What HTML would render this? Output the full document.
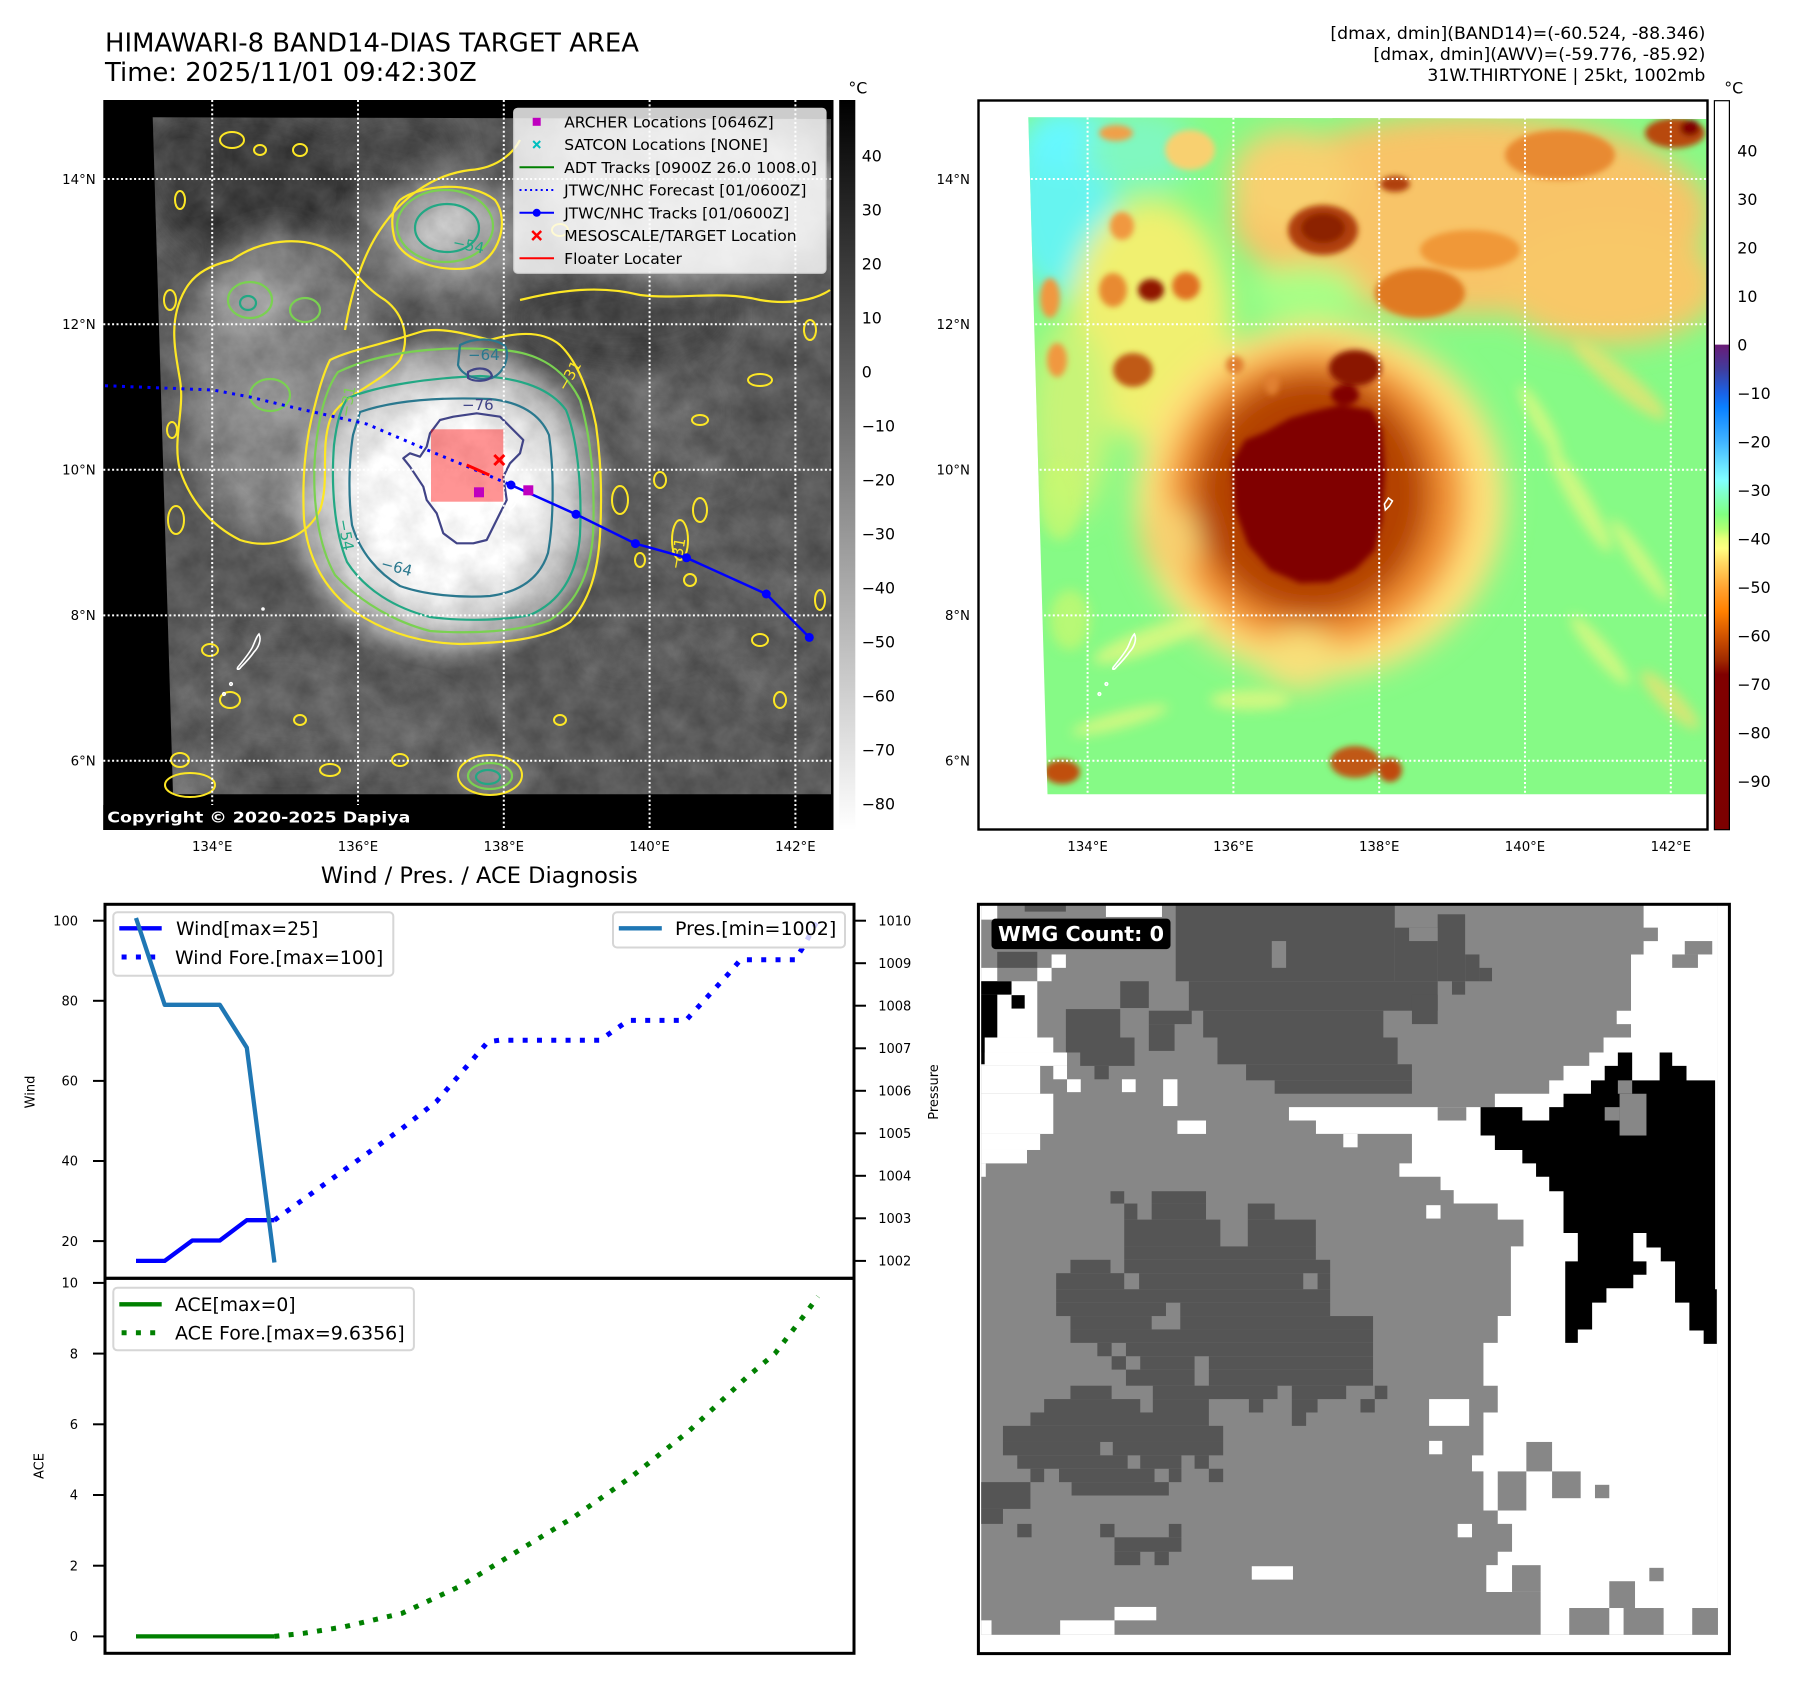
<!DOCTYPE html>
<html><head><meta charset="utf-8"><style>
html,body{margin:0;padding:0;background:#fff}
svg{display:block}
text{font-family:"DejaVu Sans","Liberation Sans",sans-serif;fill:#000}
</style></head><body>
<svg width="1797" height="1690" viewBox="0 0 1797 1690" xmlns="http://www.w3.org/2000/svg">
<defs>
<clipPath id="clipL"><polygon points="152.7,117.3 831,119 831,794.2 173,794.2"/></clipPath>
<clipPath id="clipR"><polygon points="1028.3,117.3 1706.3,119 1706.3,794.3 1047.5,794.3"/></clipPath>
<filter id="bl14" x="-50%" y="-50%" width="200%" height="200%"><feGaussianBlur stdDeviation="14"/></filter>
<filter id="bl6" x="-50%" y="-50%" width="200%" height="200%"><feGaussianBlur stdDeviation="6"/></filter>
<filter id="bl3" x="-50%" y="-50%" width="200%" height="200%"><feGaussianBlur stdDeviation="3"/></filter>
<filter id="texL" x="0" y="0" width="100%" height="100%" color-interpolation-filters="sRGB">
<feTurbulence type="fractalNoise" baseFrequency="0.035" numOctaves="4" seed="7" result="n"/>
<feColorMatrix in="n" type="matrix" values="1 0 0 0 0  1 0 0 0 0  1 0 0 0 0  0 0 0 0 1" result="g"/>
<feComposite in="SourceGraphic" in2="g" operator="arithmetic" k1="0" k2="1" k3="0.18" k4="-0.09"/>
</filter>
<linearGradient id="cb1" x1="0" y1="0" x2="0" y2="1"><stop offset="0" stop-color="#000"/><stop offset="1" stop-color="#fff"/></linearGradient>
<linearGradient id="cb2" x1="0" y1="0" x2="0" y2="1">
<stop offset="0" stop-color="#fff"/><stop offset="0.3347" stop-color="#fff"/>
<stop offset="0.3348" stop-color="#6a1b76"/><stop offset="0.368" stop-color="#403c9c"/>
<stop offset="0.4012" stop-color="#1a62e6"/><stop offset="0.421" stop-color="#0a80ff"/>
<stop offset="0.4677" stop-color="#40b4ff"/><stop offset="0.501" stop-color="#6ae4ff"/>
<stop offset="0.521" stop-color="#80ffff"/><stop offset="0.5409" stop-color="#80ffc4"/>
<stop offset="0.5675" stop-color="#80ff80"/><stop offset="0.5875" stop-color="#b0ff72"/>
<stop offset="0.6008" stop-color="#e8ff78"/><stop offset="0.6141" stop-color="#ffff80"/>
<stop offset="0.6341" stop-color="#ffd862"/><stop offset="0.6673" stop-color="#ffa432"/>
<stop offset="0.7006" stop-color="#ff8000"/><stop offset="0.7339" stop-color="#d25400"/>
<stop offset="0.7672" stop-color="#a02a00"/><stop offset="0.7871" stop-color="#800000"/>
<stop offset="1" stop-color="#7c0000"/>
</linearGradient>
<radialGradient id="storm" cx="0.5" cy="0.5" r="0.5">
<stop offset="0" stop-color="#ffffff"/><stop offset="0.45" stop-color="#f6f6f6"/>
<stop offset="0.6" stop-color="#e2e2e2"/><stop offset="0.72" stop-color="#c8c8c8"/>
<stop offset="0.87" stop-color="#a0a0a0" stop-opacity="0.9"/><stop offset="1" stop-color="#808080" stop-opacity="0"/>
</radialGradient>
</defs>

<!-- ============ TITLES ============ -->
<text x="105" y="51.7" font-size="25.7" textLength="534" lengthAdjust="spacingAndGlyphs">HIMAWARI-8 BAND14-DIAS TARGET AREA</text>
<text x="105" y="81" font-size="25.7" textLength="371.7" lengthAdjust="spacingAndGlyphs">Time: 2025/11/01 09:42:30Z</text>
<text x="1705.4" y="39.1" font-size="17" text-anchor="end" textLength="375" lengthAdjust="spacingAndGlyphs">[dmax, dmin](BAND14)=(-60.524, -88.346)</text>
<text x="1705.4" y="60" font-size="17" text-anchor="end" textLength="332" lengthAdjust="spacingAndGlyphs">[dmax, dmin](AWV)=(-59.776, -85.92)</text>
<text x="1705.4" y="80.8" font-size="17" text-anchor="end" textLength="278" lengthAdjust="spacingAndGlyphs">31W.THIRTYONE | 25kt, 1002mb</text>

<!-- ============ LEFT MAP ============ -->
<rect x="103.3" y="100" width="730.2" height="730" fill="#000"/>
<g clip-path="url(#clipL)">
<g filter="url(#texL)">
<rect x="140" y="110" width="700" height="700" fill="#5a5a5a"/>
<g filter="url(#bl14)">
<ellipse cx="255" cy="190" rx="105" ry="80" fill="#3d3d3d"/>
<ellipse cx="180" cy="160" rx="40" ry="50" fill="#444"/>
<ellipse cx="400" cy="145" rx="60" ry="35" fill="#4a4a4a"/>
<ellipse cx="450" cy="235" rx="80" ry="60" fill="#8e8e8e"/>
<ellipse cx="448" cy="228" rx="38" ry="27" fill="#c8c8c8"/>
<ellipse cx="690" cy="195" rx="150" ry="85" fill="#a4a4a4"/>
<ellipse cx="590" cy="150" rx="60" ry="35" fill="#9a9a9a"/>
<ellipse cx="620" cy="318" rx="110" ry="45" fill="#474747"/>
<ellipse cx="280" cy="385" rx="100" ry="150" fill="#858585"/>
<ellipse cx="250" cy="300" rx="32" ry="26" fill="#a8a8a8"/>
<ellipse cx="270" cy="400" rx="28" ry="22" fill="#a0a0a0"/>
<ellipse cx="340" cy="300" rx="40" ry="50" fill="#787878"/>
<ellipse cx="680" cy="450" rx="60" ry="15" fill="#707070" transform="rotate(30 680 450)"/>
<ellipse cx="720" cy="560" rx="70" ry="14" fill="#6c6c6c" transform="rotate(35 720 560)"/>
<ellipse cx="760" cy="680" rx="60" ry="12" fill="#686868" transform="rotate(40 760 680)"/>
<ellipse cx="640" cy="650" rx="50" ry="12" fill="#666"/>
<ellipse cx="660" cy="410" rx="45" ry="30" fill="#6a6a6a"/>
<ellipse cx="280" cy="700" rx="100" ry="60" fill="#606060"/>
<ellipse cx="380" cy="730" rx="80" ry="40" fill="#656565"/>
<ellipse cx="490" cy="775" rx="32" ry="20" fill="#9a9a9a"/>
<ellipse cx="190" cy="785" rx="28" ry="14" fill="#8a8a8a"/>
</g>
<ellipse cx="447" cy="500" rx="172" ry="170" fill="url(#storm)"/>
</g>
</g>

<!-- contours -->
<g fill="none" stroke-width="2.2" stroke-linejoin="round">
<path stroke="#fde725" d="M330,360 C350,350 380,345 420,332 C440,326 470,335 490,340 C510,334 540,328 560,345 C578,362 590,395 596,425 C601,460 602,500 600,535 C598,570 590,600 570,622 C545,640 500,643 460,644 C420,643 385,632 355,612 C325,590 308,560 304,520 C302,480 305,440 315,405 C320,385 325,370 330,360 Z"/>
<path stroke="#fde725" d="M232,260 C260,240 300,235 330,250 C350,262 360,285 385,300 C405,315 410,340 400,360 C380,385 340,395 330,420 C320,450 330,480 320,510 C305,540 270,550 240,540 C210,525 190,500 180,470 C172,440 185,410 180,380 C175,350 168,320 185,290 C195,272 212,265 232,260 Z"/>
<path stroke="#fde725" d="M345,330 C350,300 360,260 380,230 C400,200 430,175 470,170 C500,168 515,150 520,140"/>
<path stroke="#fde725" d="M520,300 C560,290 600,285 640,295 C680,300 720,290 760,300 C790,305 815,300 830,290"/>
<path stroke="#fde725" d="M400,200 C420,185 470,180 495,200 C510,220 500,260 470,268 C440,272 405,262 395,240 C390,222 392,208 400,200 Z"/>
<path stroke="#7ad151" d="M338,372 C380,352 440,345 500,350 C540,352 565,370 580,400 C592,440 595,490 593,535 C590,575 575,605 550,620 C520,632 470,634 430,631 C395,622 360,602 335,575 C318,545 312,500 315,455 C318,420 325,390 338,372 Z"/>
<ellipse stroke="#7ad151" cx="445" cy="226" rx="48" ry="36"/>
<ellipse stroke="#7ad151" cx="250" cy="300" rx="22" ry="18"/>
<ellipse stroke="#7ad151" cx="270" cy="395" rx="20" ry="16"/>
<ellipse stroke="#7ad151" cx="305" cy="310" rx="15" ry="12"/>
<path stroke="#22a884" d="M348,398 C380,385 430,378 480,376 C520,378 550,388 566,410 C578,440 582,490 580,535 C577,575 560,602 530,615 C500,621 460,621 430,617 C395,608 365,590 347,562 C334,530 331,485 334,445 C337,420 342,405 348,398 Z"/>
<ellipse stroke="#22a884" cx="447" cy="228" rx="32" ry="24"/>
<ellipse stroke="#22a884" cx="248" cy="303" rx="8" ry="7"/>
<path stroke="#2a788e" d="M360,412 C395,400 440,397 490,399 C520,402 540,414 549,435 C554,470 554,520 548,553 C540,578 520,592 490,596 C460,598 425,595 400,586 C378,573 360,552 352,525 C348,495 349,460 353,435 Z"/>
<path stroke="#2a788e" d="M460,345 C475,337 495,338 505,346 C510,356 505,372 492,378 C478,381 462,376 458,365 Z"/>
<path stroke="#414487" d="M453.3,416.7 L476.7,413.3 L500,416.7 L513.3,430 L523.3,440 L520,453.3 L510,463.3 L503.3,476.7 L506.7,500 L500,513.3 L493.3,526.7 L486.7,540 L473.3,543.3 L456.7,543.3 L443.3,533.3 L436.7,513.3 L426.7,500 L423.3,486.7 L410,466.7 L403.3,458.3 L410,453.3 L420,456.7 L426.7,446.7 L430,433.3 L440,420 Z"/>
<path stroke="#414487" d="M468,372 C478,366 490,368 492,376 C488,382 474,382 468,378 Z"/>
<g stroke="#fde725" stroke-width="2">
<ellipse cx="232" cy="140" rx="12" ry="8"/><ellipse cx="260" cy="150" rx="6" ry="5"/><ellipse cx="170" cy="300" rx="6" ry="10"/>
<ellipse cx="172" cy="430" rx="5" ry="8"/><ellipse cx="176" cy="520" rx="8" ry="14"/><ellipse cx="210" cy="650" rx="8" ry="6"/>
<ellipse cx="230" cy="700" rx="10" ry="8"/><ellipse cx="180" cy="760" rx="9" ry="7"/><ellipse cx="300" cy="720" rx="6" ry="5"/>
<ellipse cx="620" cy="500" rx="8" ry="14"/><ellipse cx="660" cy="480" rx="6" ry="8"/><ellipse cx="690" cy="580" rx="6" ry="6"/>
<ellipse cx="700" cy="510" rx="7" ry="12"/><ellipse cx="640" cy="560" rx="5" ry="7"/><ellipse cx="760" cy="640" rx="8" ry="6"/>
<ellipse cx="780" cy="700" rx="6" ry="8"/><ellipse cx="820" cy="600" rx="5" ry="10"/><ellipse cx="560" cy="720" rx="6" ry="5"/>
<ellipse cx="400" cy="760" rx="8" ry="6"/><ellipse cx="330" cy="770" rx="10" ry="6"/><ellipse cx="700" cy="420" rx="8" ry="5"/>
<ellipse cx="760" cy="380" rx="12" ry="6"/><ellipse cx="810" cy="330" rx="6" ry="10"/><ellipse cx="180" cy="200" rx="5" ry="9"/>
<ellipse cx="300" cy="150" rx="7" ry="6"/><ellipse cx="560" cy="230" rx="8" ry="6"/><ellipse cx="680" cy="540" rx="8" ry="20"/>
<ellipse cx="490" cy="775" rx="32" ry="20"/><ellipse cx="190" cy="785" rx="25" ry="12"/>
</g>
<ellipse stroke="#7ad151" cx="490" cy="776" rx="22" ry="13"/>
<ellipse stroke="#22a884" cx="488" cy="777" rx="12" ry="7"/>
</g>
<g font-size="15">
<text x="452" y="247" style="fill:#22a884" transform="rotate(12 452 247)">−54</text>
<text x="468" y="360" style="fill:#2a788e">−64</text>
<text x="462" y="410" style="fill:#414487">−76</text>
<text x="338" y="520" style="fill:#22a884" transform="rotate(80 338 520)">−54</text>
<text x="380" y="568" style="fill:#2a788e" transform="rotate(15 380 568)">−64</text>
<text x="566" y="392" style="fill:#fde725" transform="rotate(-60 566 392)">−31</text>
<text x="680" y="570" style="fill:#fde725" transform="rotate(-80 680 570)">−31</text>
<text x="350" y="418" style="fill:#7ad151" transform="rotate(-80 350 418)">−31</text>
</g>
<!-- islands -->
<g fill="none" stroke="#fff" stroke-width="1.6">
<path d="M259,634 C262,640 258,648 254,652 C250,658 246,662 241,667 C239,670 236,670 238,667 C243,661 248,655 252,648 C255,642 256,637 259,634 Z"/>
<circle cx="231" cy="684" r="1.3"/><circle cx="224" cy="694" r="1.3"/><circle cx="263" cy="609" r="1"/>
<path d="M510,510 L509,504 L513,498 L517,501 L514,506 Z"/>
</g>
<!-- gridlines left -->
<g stroke="#fff" stroke-width="2" stroke-dasharray="2 2.4">
<line x1="212.2" y1="100" x2="212.2" y2="830"/><line x1="358" y1="100" x2="358" y2="830"/>
<line x1="503.8" y1="100" x2="503.8" y2="830"/><line x1="649.6" y1="100" x2="649.6" y2="830"/>
<line x1="795.4" y1="100" x2="795.4" y2="830"/>
<line x1="103.3" y1="179" x2="833.5" y2="179"/><line x1="103.3" y1="324.2" x2="833.5" y2="324.2"/>
<line x1="103.3" y1="469.7" x2="833.5" y2="469.7"/><line x1="103.3" y1="615.4" x2="833.5" y2="615.4"/>
<line x1="103.3" y1="760.8" x2="833.5" y2="760.8"/>
</g>
<!-- floater rect -->
<rect x="431" y="429.3" width="72.3" height="72.4" fill="#ff0000" fill-opacity="0.42"/>
<!-- tracks -->
<path d="M105,385.7 L213,390 L250,397 L290,406.7 L366.7,424 L433.3,452.5 L466,466 L511,485" fill="none" stroke="#0000ff" stroke-width="3" stroke-dasharray="3 5.5"/>
<path d="M511,485 L576,514.3 L635.4,543.6 L686.5,557.8 L766.3,594 L809.3,637.4" fill="none" stroke="#0000ff" stroke-width="2.5"/>
<g fill="#0000ff"><circle cx="511" cy="485" r="4.5"/><circle cx="576" cy="514.3" r="4.5"/><circle cx="635.4" cy="543.6" r="4.5"/><circle cx="686.5" cy="557.8" r="4.5"/><circle cx="766.3" cy="594" r="4.5"/><circle cx="809.3" cy="637.4" r="4.5"/></g>
<rect x="474" y="487.3" width="10" height="10" fill="#bf00bf"/>
<rect x="523.3" y="485.3" width="10" height="10" fill="#bf00bf"/>
<line x1="466.7" y1="465" x2="489.3" y2="475" stroke="#ff0000" stroke-width="3"/>
<g stroke="#ff0000" stroke-width="3"><line x1="494.3" y1="455" x2="504.3" y2="465"/><line x1="494.3" y1="465" x2="504.3" y2="455"/></g>
<!-- legend left map -->
<rect x="513.7" y="108.3" width="312.3" height="165" rx="4" fill="#fff" fill-opacity="0.8" stroke="#cccccc" stroke-width="1.2"/>
<rect x="532.7" y="117.8" width="8" height="8" fill="#bf00bf"/>
<g stroke="#00bfbf" stroke-width="2"><line x1="533.2" y1="141" x2="540.2" y2="148"/><line x1="533.2" y1="148" x2="540.2" y2="141"/></g>
<line x1="519.5" y1="167.3" x2="554" y2="167.3" stroke="#008000" stroke-width="2"/>
<line x1="519.5" y1="190.05" x2="554" y2="190.05" stroke="#0000ff" stroke-width="2" stroke-dasharray="2 3.3"/>
<line x1="519.5" y1="212.8" x2="554" y2="212.8" stroke="#0000ff" stroke-width="2"/>
<circle cx="536.7" cy="212.8" r="4" fill="#0000ff"/>
<g stroke="#ff0000" stroke-width="2.5"><line x1="532.2" y1="231" x2="541.2" y2="240"/><line x1="532.2" y1="240" x2="541.2" y2="231"/></g>
<line x1="519.5" y1="258.3" x2="554" y2="258.3" stroke="#ff0000" stroke-width="2"/>
<g font-size="15.5">
<text x="564.2" y="127.4" textLength="209.5" lengthAdjust="spacingAndGlyphs">ARCHER Locations [0646Z]</text>
<text x="564.2" y="150.2" textLength="203.8" lengthAdjust="spacingAndGlyphs">SATCON Locations [NONE]</text>
<text x="564.2" y="172.9" textLength="252.6" lengthAdjust="spacingAndGlyphs">ADT Tracks [0900Z 26.0 1008.0]</text>
<text x="564.2" y="195.7" textLength="242.3" lengthAdjust="spacingAndGlyphs">JTWC/NHC Forecast [01/0600Z]</text>
<text x="564.2" y="218.4" textLength="225.1" lengthAdjust="spacingAndGlyphs">JTWC/NHC Tracks [01/0600Z]</text>
<text x="564.2" y="241.2" textLength="232.5" lengthAdjust="spacingAndGlyphs">MESOSCALE/TARGET Location</text>
<text x="564.2" y="263.9" textLength="117.8" lengthAdjust="spacingAndGlyphs">Floater Locater</text>
</g>
<rect x="103.3" y="805" width="310" height="25" fill="#000"/>
<text x="107.3" y="822.7" font-size="15.5" font-weight="bold" style="fill:#fff" textLength="303" lengthAdjust="spacingAndGlyphs">Copyright © 2020-2025 Dapiya</text>

<!-- ticks maps -->
<g font-size="13.3" text-anchor="end">
<text x="95.7" y="183.9">14°N</text><text x="95.7" y="329">12°N</text><text x="95.7" y="474.5">10°N</text><text x="95.7" y="620.2">8°N</text><text x="95.7" y="765.6">6°N</text>
<text x="970" y="183.9">14°N</text><text x="970" y="329">12°N</text><text x="970" y="474.5">10°N</text><text x="970" y="620.2">8°N</text><text x="970" y="765.6">6°N</text>
</g>
<g font-size="13.3" text-anchor="middle">
<text x="212.2" y="851.2">134°E</text><text x="358" y="851.2">136°E</text><text x="503.8" y="851.2">138°E</text><text x="649.6" y="851.2">140°E</text><text x="795.4" y="851.2">142°E</text>
<text x="1087.6" y="851.2">134°E</text><text x="1233.4" y="851.2">136°E</text><text x="1379.2" y="851.2">138°E</text><text x="1525" y="851.2">140°E</text><text x="1670.8" y="851.2">142°E</text>
</g>

<!-- colorbar 1 -->
<rect x="839.2" y="100" width="16.1" height="730" fill="url(#cb1)"/>
<text x="857.8" y="93.4" font-size="15.8" text-anchor="middle">°C</text>
<g font-size="15.8">
<text x="861.7" y="161.5">40</text><text x="861.7" y="215.5">30</text><text x="861.7" y="269.5">20</text><text x="861.7" y="323.5">10</text>
<text x="861.7" y="377.5">0</text><text x="861.7" y="431.5">−10</text><text x="861.7" y="485.5">−20</text><text x="861.7" y="539.5">−30</text>
<text x="861.7" y="593.5">−40</text><text x="861.7" y="647.5">−50</text><text x="861.7" y="701.5">−60</text><text x="861.7" y="755.5">−70</text>
<text x="861.7" y="809.5">−80</text>
</g>

<!-- ============ RIGHT MAP ============ -->
<rect x="978.5" y="100.5" width="729" height="729" fill="#fff"/>
<g clip-path="url(#clipR)">
<rect x="1020" y="110" width="700" height="700" fill="#86fa86"/>
<g filter="url(#bl14)">
<ellipse cx="1062" cy="200" rx="55" ry="95" fill="#66f4f0"/>
<ellipse cx="1075" cy="140" rx="55" ry="30" fill="#66f8ff"/>
<ellipse cx="1140" cy="150" rx="55" ry="40" fill="#80f8c0"/>
<ellipse cx="1150" cy="320" rx="80" ry="120" fill="#f0f070"/>
<ellipse cx="1070" cy="420" rx="40" ry="100" fill="#c8f478"/>
<ellipse cx="1470" cy="215" rx="240" ry="100" fill="#f8c468"/>
<ellipse cx="1610" cy="285" rx="110" ry="60" fill="#f8c868"/>
<ellipse cx="1290" cy="180" rx="60" ry="50" fill="#f8d070"/>
<ellipse cx="1305" cy="292" rx="55" ry="26" fill="#a8ff86"/>
<ellipse cx="1320" cy="500" rx="185" ry="178" fill="#ffe07a"/>
<ellipse cx="1315" cy="498" rx="150" ry="150" fill="#f29030"/>
<ellipse cx="1312" cy="495" rx="118" ry="122" fill="#b44200"/>
<ellipse cx="1170" cy="540" rx="30" ry="35" fill="#f8d070"/>
<ellipse cx="1300" cy="660" rx="40" ry="30" fill="#f8e07a"/>
</g>
<g filter="url(#bl6)" opacity="0.75">
<ellipse cx="1580" cy="500" rx="60" ry="10" fill="#e8f880" transform="rotate(60 1580 500)"/>
<ellipse cx="1640" cy="560" rx="50" ry="8" fill="#e8f880" transform="rotate(55 1640 560)"/>
<ellipse cx="1600" cy="650" rx="45" ry="9" fill="#e8f880" transform="rotate(50 1600 650)"/>
<ellipse cx="1670" cy="700" rx="40" ry="10" fill="#f0e070" transform="rotate(45 1670 700)"/>
<ellipse cx="1150" cy="640" rx="60" ry="12" fill="#e8f880" transform="rotate(-20 1150 640)"/>
<ellipse cx="1120" cy="720" rx="50" ry="8" fill="#e8f880" transform="rotate(-15 1120 720)"/>
<ellipse cx="1250" cy="700" rx="40" ry="10" fill="#e8f880"/>
<ellipse cx="1540" cy="420" rx="40" ry="8" fill="#e8f880" transform="rotate(60 1540 420)"/>
<ellipse cx="1060" cy="500" rx="20" ry="40" fill="#c8f870"/>
<ellipse cx="1070" cy="620" rx="20" ry="30" fill="#c8f870"/>
<ellipse cx="1620" cy="380" rx="60" ry="12" fill="#f0e070" transform="rotate(40 1620 380)"/>
</g>
<g filter="url(#bl3)">
<path d="M1232,462 L1245,440 L1265,432 L1290,418 L1310,412 L1340,405 L1372,410 L1382,430 L1385,470 L1382,520 L1375,550 L1355,570 L1330,582 L1300,583 L1270,570 L1248,545 L1235,510 Z" fill="#800000"/>
<ellipse cx="1323" cy="230" rx="35" ry="25" fill="#b04008"/>
<ellipse cx="1323" cy="228" rx="22" ry="15" fill="#8c2000"/>
<ellipse cx="1420" cy="293" rx="45" ry="25" fill="#e07a20"/>
<ellipse cx="1560" cy="155" rx="55" ry="25" fill="#e88a30"/>
<ellipse cx="1675" cy="133" rx="30" ry="15" fill="#b84a10"/>
<ellipse cx="1690" cy="128" rx="10" ry="8" fill="#800000"/>
<ellipse cx="1395" cy="184" rx="15" ry="8" fill="#b04010"/>
<ellipse cx="1470" cy="250" rx="50" ry="20" fill="#f09838"/>
<ellipse cx="1151" cy="290" rx="13" ry="11" fill="#901800"/>
<ellipse cx="1113" cy="290" rx="14" ry="17" fill="#e88a30"/>
<ellipse cx="1186" cy="286" rx="14" ry="14" fill="#e07020"/>
<ellipse cx="1133" cy="370" rx="20" ry="17" fill="#c05a18"/>
<ellipse cx="1122" cy="226" rx="12" ry="14" fill="#f09840"/>
<ellipse cx="1050" cy="298" rx="10" ry="20" fill="#f09840"/>
<ellipse cx="1057" cy="360" rx="10" ry="17" fill="#f09840"/>
<ellipse cx="1116" cy="133" rx="17" ry="8" fill="#f0a048"/>
<ellipse cx="1190" cy="150" rx="25" ry="20" fill="#f8d070"/>
<ellipse cx="1235" cy="365" rx="9" ry="9" fill="#e08030"/>
<ellipse cx="1272" cy="384" rx="7" ry="11" fill="#e08030"/>
<ellipse cx="1355" cy="368" rx="26" ry="18" fill="#8a1400"/>
<ellipse cx="1345" cy="395" rx="14" ry="10" fill="#800000"/>
<ellipse cx="1062" cy="772" rx="18" ry="12" fill="#c05010"/>
<ellipse cx="1355" cy="762" rx="25" ry="16" fill="#c05818"/>
<ellipse cx="1390" cy="770" rx="12" ry="12" fill="#c04810"/>
</g>
<g stroke="#fff" stroke-width="2" stroke-dasharray="2 2.4">
<line x1="1087.6" y1="100" x2="1087.6" y2="830"/><line x1="1233.4" y1="100" x2="1233.4" y2="830"/>
<line x1="1379.2" y1="100" x2="1379.2" y2="830"/><line x1="1525" y1="100" x2="1525" y2="830"/>
<line x1="1670.8" y1="100" x2="1670.8" y2="830"/>
<line x1="978" y1="179" x2="1708" y2="179"/><line x1="978" y1="324.2" x2="1708" y2="324.2"/>
<line x1="978" y1="469.7" x2="1708" y2="469.7"/><line x1="978" y1="615.4" x2="1708" y2="615.4"/>
<line x1="978" y1="760.8" x2="1708" y2="760.8"/>
</g>
</g>
<g fill="none" stroke="#fff" stroke-width="1.6" transform="translate(875.4,0)">
<path d="M259,634 C262,640 258,648 254,652 C250,658 246,662 241,667 C239,670 236,670 238,667 C243,661 248,655 252,648 C255,642 256,637 259,634 Z"/>
<circle cx="231" cy="684" r="1.3"/><circle cx="224" cy="694" r="1.3"/>
<path d="M510,510 L509,504 L513,498 L517,501 L514,506 Z"/>
</g>
<rect x="978.5" y="100.5" width="729" height="729" fill="none" stroke="#000" stroke-width="2.4"/>
<!-- colorbar 2 -->
<rect x="1714.4" y="100.7" width="15" height="729" fill="url(#cb2)" stroke="#000" stroke-width="1.2"/>
<text x="1733.7" y="93.4" font-size="15.8" text-anchor="middle">°C</text>
<g font-size="15.8">
<text x="1737.3" y="156.5">40</text><text x="1737.3" y="205">30</text><text x="1737.3" y="253.5">20</text><text x="1737.3" y="302">10</text>
<text x="1737.3" y="350.6">0</text><text x="1737.3" y="399.1">−10</text><text x="1737.3" y="447.6">−20</text><text x="1737.3" y="496.1">−30</text>
<text x="1737.3" y="544.6">−40</text><text x="1737.3" y="593.2">−50</text><text x="1737.3" y="641.7">−60</text><text x="1737.3" y="690.2">−70</text>
<text x="1737.3" y="738.7">−80</text><text x="1737.3" y="787.2">−90</text>
</g>

<!-- ============ BOTTOM LEFT ============ -->
<text x="479.3" y="883" font-size="22.3" text-anchor="middle" textLength="316.8" lengthAdjust="spacingAndGlyphs">Wind / Pres. / ACE Diagnosis</text>
<rect x="105" y="904.3" width="749" height="374" fill="#fff"/>
<g stroke="#000" stroke-width="2">
<line x1="93" y1="920.7" x2="105" y2="920.7"/><line x1="93" y1="1000.8" x2="105" y2="1000.8"/><line x1="93" y1="1080.9" x2="105" y2="1080.9"/><line x1="93" y1="1161" x2="105" y2="1161"/><line x1="93" y1="1241.1" x2="105" y2="1241.1"/>
<line x1="93" y1="1282.9" x2="105" y2="1282.9"/><line x1="93" y1="1353.6" x2="105" y2="1353.6"/><line x1="93" y1="1424.3" x2="105" y2="1424.3"/><line x1="93" y1="1495" x2="105" y2="1495"/><line x1="93" y1="1565.7" x2="105" y2="1565.7"/><line x1="93" y1="1636.4" x2="105" y2="1636.4"/>
<line x1="854" y1="920.7" x2="866" y2="920.7"/><line x1="854" y1="963.2" x2="866" y2="963.2"/><line x1="854" y1="1005.7" x2="866" y2="1005.7"/><line x1="854" y1="1048.3" x2="866" y2="1048.3"/><line x1="854" y1="1090.8" x2="866" y2="1090.8"/><line x1="854" y1="1133.3" x2="866" y2="1133.3"/><line x1="854" y1="1175.8" x2="866" y2="1175.8"/><line x1="854" y1="1218.3" x2="866" y2="1218.3"/><line x1="854" y1="1260.9" x2="866" y2="1260.9"/>
</g>
<g font-size="13" text-anchor="end">
<text x="78" y="925.4">100</text><text x="78" y="1005.5">80</text><text x="78" y="1085.6">60</text><text x="78" y="1165.7">40</text><text x="78" y="1245.8">20</text>
<text x="78" y="1287.6">10</text><text x="78" y="1358.3">8</text><text x="78" y="1429">6</text><text x="78" y="1499.7">4</text><text x="78" y="1570.4">2</text><text x="78" y="1641.1">0</text>
</g>
<g font-size="13">
<text x="878.2" y="925.4">1010</text><text x="878.2" y="967.9">1009</text><text x="878.2" y="1010.4">1008</text><text x="878.2" y="1053">1007</text><text x="878.2" y="1095.5">1006</text><text x="878.2" y="1138">1005</text><text x="878.2" y="1180.5">1004</text><text x="878.2" y="1223">1003</text><text x="878.2" y="1265.6">1002</text>
</g>
<text transform="translate(34.5,1092) rotate(-90)" font-size="13" text-anchor="middle">Wind</text>
<text transform="translate(43.7,1466) rotate(-90)" font-size="13" text-anchor="middle">ACE</text>
<text transform="translate(937.9,1092) rotate(-90)" font-size="13" text-anchor="middle">Pressure</text>
<polyline points="136,1260.9 164.7,1260.9 192.3,1240.5 219.8,1240.5 246.8,1220.2 274.4,1220.2" fill="none" stroke="#0000ff" stroke-width="4.3" stroke-linejoin="round"/>
<polyline points="274.4,1220.2 401.8,1128.6 436.2,1101.8 487.9,1041.8 499.4,1040.2 599.8,1040.2 628.5,1020.4 685.9,1020.4 729,973.2 740.5,959.8 795,959.8 803.6,946.4 818,919.6" fill="none" stroke="#0000ff" stroke-width="5" stroke-dasharray="5 9.3"/>
<rect x="113.3" y="912.3" width="280" height="63.4" rx="4" fill="#fff" fill-opacity="0.8" stroke="#d6d6d6" stroke-width="2"/>
<line x1="119.3" y1="928.3" x2="161.7" y2="928.3" stroke="#0000ff" stroke-width="4.3"/>
<line x1="121.6" y1="957" x2="161.7" y2="957" stroke="#0000ff" stroke-width="5" stroke-dasharray="5 9.3"/>
<text x="176" y="935" font-size="18.3" textLength="142.3" lengthAdjust="spacingAndGlyphs">Wind[max=25]</text>
<text x="175" y="964" font-size="18.3" textLength="208.3" lengthAdjust="spacingAndGlyphs">Wind Fore.[max=100]</text>
<polyline points="136,918 164.7,1004.8 219.8,1004.8 246.8,1047.7 274.4,1262.5" fill="none" stroke="#1f77b4" stroke-width="4.3" stroke-linejoin="round"/>
<rect x="613" y="912.3" width="232" height="35.2" rx="4" fill="#fff" fill-opacity="0.8" stroke="#d6d6d6" stroke-width="2"/>
<line x1="618.8" y1="928.3" x2="661.8" y2="928.3" stroke="#1f77b4" stroke-width="4.3"/>
<text x="675" y="935" font-size="18.3" textLength="161.3" lengthAdjust="spacingAndGlyphs">Pres.[min=1002]</text>
<line x1="136" y1="1636.4" x2="274.4" y2="1636.4" stroke="#008000" stroke-width="4.3"/>
<polyline points="274.4,1636.4 304.2,1633.2 344.4,1626.8 401.8,1613.4 459.2,1586.6 516.6,1551.8 574,1517 631.4,1476.8 688.8,1431.2 746.2,1377.7 774.9,1353.6 803.6,1316.1 818,1296.5" fill="none" stroke="#008000" stroke-width="5" stroke-dasharray="5 9.3"/>
<rect x="113.3" y="1287.7" width="300.6" height="62.6" rx="4" fill="#fff" fill-opacity="0.8" stroke="#d6d6d6" stroke-width="2"/>
<line x1="119.3" y1="1304.3" x2="161.7" y2="1304.3" stroke="#008000" stroke-width="4.3"/>
<line x1="121.6" y1="1332.7" x2="161.7" y2="1332.7" stroke="#008000" stroke-width="5" stroke-dasharray="5 9.3"/>
<text x="175" y="1311" font-size="18.3" textLength="120.6" lengthAdjust="spacingAndGlyphs">ACE[max=0]</text>
<text x="175" y="1339.4" font-size="18.3" textLength="229.7" lengthAdjust="spacingAndGlyphs">ACE Fore.[max=9.6356]</text>
<rect x="105" y="904.3" width="749" height="374" fill="none" stroke="#000" stroke-width="3"/>
<rect x="105" y="1278.3" width="749" height="375" fill="none" stroke="#000" stroke-width="3"/>

<!-- ============ BOTTOM RIGHT (WMG) ============ -->
<g transform="translate(900,850) scale(0.572,0.5357)">
<rect x="142" y="101" width="1288" height="1364" fill="#878787"/>
<g fill="#555555">
<rect x="368" y="637" width="24" height="23"/><rect x="440" y="637" width="95" height="23"/>
<rect x="392" y="660" width="23" height="30"/><rect x="440" y="660" width="95" height="30"/><rect x="608" y="660" width="47" height="30"/>
<rect x="392" y="690" width="168" height="50"/><rect x="608" y="690" width="119" height="50"/>
<rect x="392" y="740" width="335" height="25"/>
<rect x="298" y="765" width="70" height="25"/><rect x="392" y="765" width="360" height="25"/>
<rect x="273" y="790" width="119" height="30"/><rect x="418" y="790" width="287" height="30"/><rect x="730" y="790" width="22" height="30"/>
<rect x="273" y="820" width="479" height="25"/>
<rect x="273" y="845" width="192" height="25"/><rect x="490" y="845" width="262" height="25"/>
<rect x="298" y="870" width="142" height="25"/><rect x="490" y="870" width="337" height="25"/>
<rect x="298" y="895" width="529" height="25"/>
<rect x="345" y="920" width="25" height="25"/><rect x="395" y="920" width="432" height="25"/>
<rect x="370" y="945" width="25" height="25"/><rect x="420" y="945" width="95" height="25"/><rect x="540" y="945" width="287" height="25"/>
<rect x="395" y="970" width="120" height="30"/><rect x="540" y="970" width="287" height="30"/>
<rect x="298" y="1000" width="72" height="25"/><rect x="442" y="1000" width="218" height="25"/><rect x="685" y="1000" width="95" height="25"/><rect x="830" y="1000" width="22" height="25"/>
<rect x="252" y="1025" width="168" height="25"/><rect x="442" y="1025" width="98" height="25"/><rect x="610" y="1025" width="25" height="25"/><rect x="685" y="1025" width="45" height="25"/><rect x="805" y="1025" width="25" height="25"/>
<rect x="228" y="1050" width="312" height="25"/><rect x="685" y="1050" width="25" height="25"/>
<rect x="180" y="1075" width="385" height="30"/>
<rect x="180" y="1105" width="170" height="25"/><rect x="372" y="1105" width="193" height="25"/>
<rect x="205" y="1130" width="193" height="25"/><rect x="420" y="1130" width="72" height="25"/><rect x="515" y="1130" width="25" height="25"/>
<rect x="228" y="1155" width="24" height="25"/><rect x="278" y="1155" width="167" height="25"/><rect x="470" y="1155" width="22" height="25"/><rect x="540" y="1155" width="25" height="25"/>
<rect x="142" y="1180" width="86" height="50"/><rect x="300" y="1180" width="170" height="25"/>
<rect x="142" y="1230" width="38" height="28"/>
<rect x="205" y="1258" width="25" height="25"/><rect x="350" y="1258" width="25" height="25"/><rect x="470" y="1258" width="22" height="25"/>
<rect x="375" y="1283" width="117" height="27"/>
<rect x="375" y="1310" width="45" height="25"/><rect x="445" y="1310" width="25" height="25"/>
<rect x="482" y="101" width="383" height="144"/><rect x="865" y="145" width="75" height="100"/><rect x="940" y="120" width="48" height="125"/>
<rect x="988" y="195" width="25" height="50"/><rect x="1013" y="220" width="22" height="25"/><rect x="965" y="245" width="23" height="25"/>
<rect x="505" y="245" width="435" height="55"/><rect x="530" y="300" width="315" height="50"/><rect x="895" y="270" width="45" height="55"/>
<rect x="555" y="350" width="315" height="50"/><rect x="605" y="400" width="290" height="30"/><rect x="655" y="430" width="240" height="25"/>
<rect x="385" y="245" width="50" height="50"/><rect x="290" y="297" width="95" height="53"/><rect x="290" y="350" width="120" height="28"/>
<rect x="315" y="378" width="95" height="25"/><rect x="340" y="403" width="25" height="25"/>
<rect x="435" y="300" width="75" height="25"/><rect x="435" y="325" width="45" height="50"/>
<rect x="218" y="101" width="72" height="14"/><rect x="170" y="190" width="70" height="30"/>
</g>
<g fill="#878787"><rect x="650" y="170" width="25" height="50"/><rect x="890" y="145" width="50" height="25"/></g>
<g fill="#ffffff">
<polygon points="1300,101 1430,101 1430,1465 1120,1465 1120,1385 1025,1385 1025,1335 1045,1335 1045,1310 1070,1310 1070,1258 1045,1258 1045,1233 1020,1233 1020,1160 1000,1160 1000,1130 1020,1130 1020,1050 1045,1050 1045,1000 1020,1000 1020,920 1045,920 1045,870 1068,870 1068,740 1090,740 1090,690 1045,690 1045,660 968,660 968,635 945,635 945,610 873,610 873,585 895,585 895,530 727,530 727,505 680,505 680,480 1040,480 1040,455 1135,455 1135,430 1160,430 1160,403 1205,403 1205,378 1230,378 1230,350 1278,350 1278,325 1253,325 1253,300 1278,300 1278,195 1300,195 1300,170 1325,170 1325,145 1300,145"/>
<rect x="142" y="101" width="28" height="29"/><rect x="360" y="101" width="98" height="24"/><rect x="265" y="195" width="25" height="25"/>
<rect x="142" y="220" width="28" height="25"/><rect x="240" y="220" width="25" height="25"/><rect x="170" y="245" width="70" height="105"/>
<rect x="148" y="350" width="120" height="28"/><rect x="142" y="378" width="150" height="25"/><rect x="142" y="403" width="103" height="52"/>
<rect x="268" y="403" width="24" height="25"/><rect x="292" y="428" width="24" height="24"/><rect x="142" y="455" width="126" height="75"/>
<rect x="142" y="530" width="103" height="30"/><rect x="142" y="560" width="80" height="25"/><rect x="142" y="585" width="8" height="25"/>
<rect x="388" y="428" width="24" height="24"/><rect x="460" y="428" width="25" height="50"/><rect x="485" y="505" width="50" height="25"/>
<rect x="775" y="530" width="25" height="25"/><rect x="920" y="663" width="25" height="25"/><rect x="925" y="1025" width="70" height="50"/>
<rect x="925" y="1103" width="23" height="25"/><rect x="975" y="1258" width="25" height="25"/><rect x="615" y="1337" width="72" height="25"/>
<rect x="375" y="1413" width="73" height="25"/><rect x="142" y="1438" width="18" height="27"/><rect x="280" y="1438" width="95" height="27"/>
</g>
<g fill="#000">
<polygon points="1015,480 1088,480 1088,505 1135,505 1135,480 1160,480 1160,455 1208,455 1208,430 1232,430 1232,403 1255,403 1255,378 1280,378 1280,430 1328,430 1328,378 1350,378 1350,403 1375,403 1375,430 1425,430 1425,820 1428,820 1428,922 1405,922 1405,897 1380,897 1380,845 1355,845 1355,768 1330,768 1330,742 1305,742 1305,715 1282,715 1282,768 1305,768 1305,793 1282,793 1282,818 1235,818 1235,845 1210,845 1210,895 1185,895 1185,920 1163,920 1163,768 1185,768 1185,715 1160,715 1160,637 1135,637 1135,610 1112,610 1112,585 1088,585 1088,560 1040,560 1040,533 1015,533"/>
<rect x="142" y="245" width="53" height="25"/><rect x="142" y="270" width="28" height="80"/><rect x="195" y="271" width="23" height="25"/><rect x="142" y="350" width="6" height="50"/>
</g>
<g fill="#878787">
<rect x="1070" y="1335" width="50" height="50"/><rect x="1045" y="1160" width="50" height="73"/><rect x="1095" y="1105" width="45" height="55"/>
<rect x="1140" y="1160" width="50" height="50"/><rect x="1215" y="1185" width="25" height="25"/><rect x="1310" y="1340" width="25" height="25"/>
<rect x="1240" y="1365" width="45" height="50"/><rect x="1170" y="1415" width="70" height="50"/><rect x="1265" y="1415" width="70" height="50"/>
<rect x="1385" y="1415" width="45" height="50"/><rect x="1372" y="170" width="48" height="25"/><rect x="1350" y="195" width="45" height="25"/>
<rect x="940" y="480" width="50" height="25"/><rect x="705" y="505" width="22" height="25"/>
<rect x="1255" y="430" width="25" height="25"/><rect x="1258" y="455" width="47" height="78"/><rect x="1232" y="480" width="26" height="25"/>
</g>
</g>
<rect x="978.4" y="904.3" width="751" height="749.3" fill="none" stroke="#000" stroke-width="3"/>
<rect x="991.5" y="918.6" width="179" height="30.5" rx="4" fill="#000"/>
<text x="1081" y="941.2" font-size="20.5" font-weight="bold" text-anchor="middle" style="fill:#fff" textLength="166" lengthAdjust="spacingAndGlyphs">WMG Count: 0</text>
</svg>
</body></html>
